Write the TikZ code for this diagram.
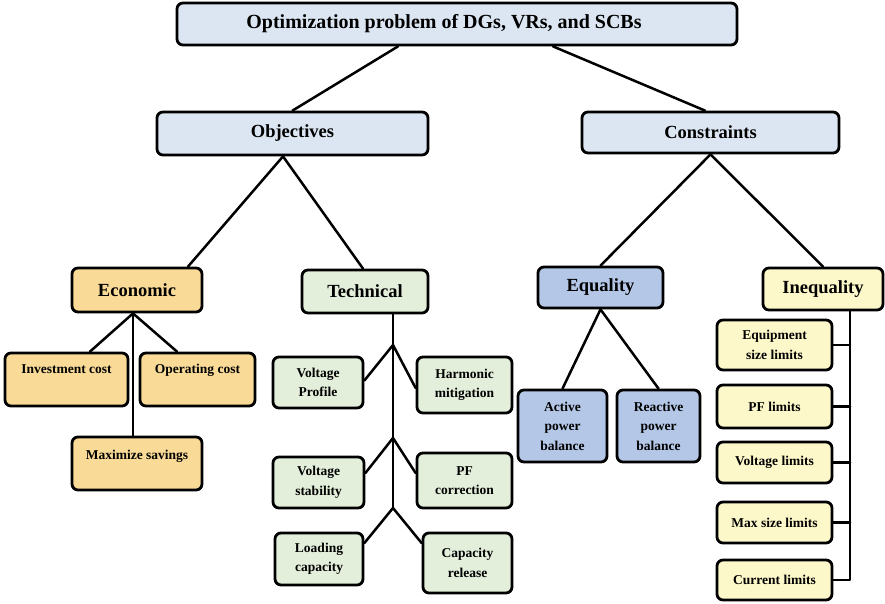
\documentclass[tikz,border=0pt]{standalone}
\usepackage{fontspec}
\setmainfont{Liberation Serif}
\usetikzlibrary{calc}

\definecolor{topblue}{HTML}{DCE6F2}
\definecolor{econfill}{HTML}{F9DB97}
\definecolor{techfill}{HTML}{E3EFDA}
\definecolor{eqfill}{HTML}{B4C7E7}
\definecolor{ineqfill}{HTML}{FDF8C9}

\tikzset{
  box/.style={draw=black, line width=2.8pt, rounded corners=6pt, inner sep=0pt,
              align=center, font=\bfseries\fontsize{13.5}{19.5}\selectfont},
  head/.style={box, font=\bfseries\fontsize{18.5}{22}\selectfont},
  link/.style={draw=black, line width=2.5pt, line cap=round, line join=round},
}

% \bx{name}{x1}{y1}{x2}{y2}{style}{text}
\newcommand\bx[7]{%
  \node[#6, minimum width={(#4)-(#2)}, minimum height={(#5)-(#3)}]
    (#1) at ({((#2)+(#4))/2},{((#3)+(#5))/2}) {#7};}

\begin{document}
\begin{tikzpicture}[x=1pt, y=-1pt]
\useasboundingbox (0,0) rectangle (885,604);

% top level
\bx{title}{177}{3}{737}{45}{head, font=\bfseries\fontsize{20}{24}\selectfont, fill=topblue}{Optimization problem of DGs, VRs, and SCBs\hspace*{26pt}}
\bx{obj}{157}{112}{428}{155}{head, fill=topblue}{Objectives}
\bx{con}{582}{112}{839}{153}{head, fill=topblue}{Constraints}

% second level
\bx{econ}{72}{268}{202}{312}{head, fill=econfill}{Economic}
\bx{tech}{302}{270}{428}{313}{head, fill=techfill}{Technical}
\bx{equ}{538}{267}{663}{308}{head, fill=eqfill}{Equality}
\bx{ineq}{763}{268}{883}{310}{head, fill=ineqfill}{Inequality}

% economic objectives
\bx{inv}{5}{353}{128}{406}{box, fill=econfill, text depth=21pt}{Investment cost}
\bx{opc}{140}{353}{255}{406}{box, fill=econfill, text depth=21pt}{Operating cost}
\bx{msav}{72}{437}{202}{490}{box, fill=econfill, text depth=17pt}{Maximize savings}

% technical objectives
\bx{vprof}{273}{357}{363}{408}{box, fill=techfill}{Voltage\\Profile}
\bx{harm}{417}{357}{512}{413}{box, fill=techfill}{Harmonic\\mitigation}
\bx{vstab}{273}{457}{364}{508}{box, fill=techfill}{Voltage\\stability}
\bx{pfc}{417}{453}{512}{508}{box, fill=techfill}{PF\\correction}
\bx{load}{275}{533}{363}{585}{box, fill=techfill}{Loading\\capacity}
\bx{caprel}{423}{533}{512}{593}{box, fill=techfill}{Capacity\\release}

% equality constraints
\bx{act}{518}{390}{607}{462}{box, fill=eqfill}{Active\\power\\balance}
\bx{react}{617}{390}{700}{462}{box, fill=eqfill}{Reactive\\power\\balance}

% inequality constraints
\bx{eqsz}{717}{320}{832}{370}{box, fill=ineqfill}{Equipment\\size limits}
\bx{pfl}{717}{385}{832}{428}{box, fill=ineqfill}{PF limits}
\bx{vlim}{717}{442}{832}{483}{box, fill=ineqfill}{Voltage limits}
\bx{msz}{717}{502}{832}{543}{box, fill=ineqfill}{Max size limits}
\bx{cur}{717}{560}{832}{600}{box, fill=ineqfill}{Current limits}

% junctions on the technical trunk
\coordinate (j1) at (393,345);
\coordinate (j2) at (393,438);
\coordinate (j3) at (393,508);
\coordinate (ibar) at (850,310);

% connectors: top level
\draw[link] ([xshift=-59pt]title.south) -- (obj.north);
\draw[link] ([xshift=96pt]title.south) -- ([xshift=-5.5pt]con.north);
\draw[link] ([xshift=-9.5pt]obj.south) -- ([xshift=51pt]econ.north);
\draw[link] ([xshift=-9.5pt]obj.south) -- ([xshift=-2pt]tech.north);
\draw[link] (con.south) -- (equ.north);
\draw[link] (con.south) -- (ineq.north);

% economic branch
\draw[link] ([xshift=-4pt]econ.south) -- ([xshift=23.5pt]inv.north);
\draw[link] ([xshift=-4pt]econ.south) -- ([xshift=-20.5pt]opc.north);
\draw[link] ([xshift=-4pt]econ.south) -- ([xshift=-4pt]msav.north);

% technical branch
\draw[link] ([xshift=28pt]tech.south) -- (j3);
\draw[link] (j1) -- ([yshift=2pt]vprof.east);
\draw[link] (j1) -- ([yshift=-3pt]harm.west);
\draw[link] (j2) -- ([yshift=9.5pt]vstab.east);
\draw[link] (j2) -- ([yshift=7.5pt]pfc.west);
\draw[link] (j3) -- ([yshift=16pt]load.east);
\draw[link] (j3) -- ([yshift=20pt]caprel.west);

% equality branch
\draw[link] (equ.south) -- (act.north);
\draw[link] (equ.south) -- (react.north);

% inequality branch
\draw[link] (ibar) |- (cur.east);
\draw[link] (eqsz.east) -- (eqsz.east -| ibar);
\draw[link] (pfl.east) -- (pfl.east -| ibar);
\draw[link] (vlim.east) -- (vlim.east -| ibar);
\draw[link] (msz.east) -- (msz.east -| ibar);
\end{tikzpicture}
\end{document}
